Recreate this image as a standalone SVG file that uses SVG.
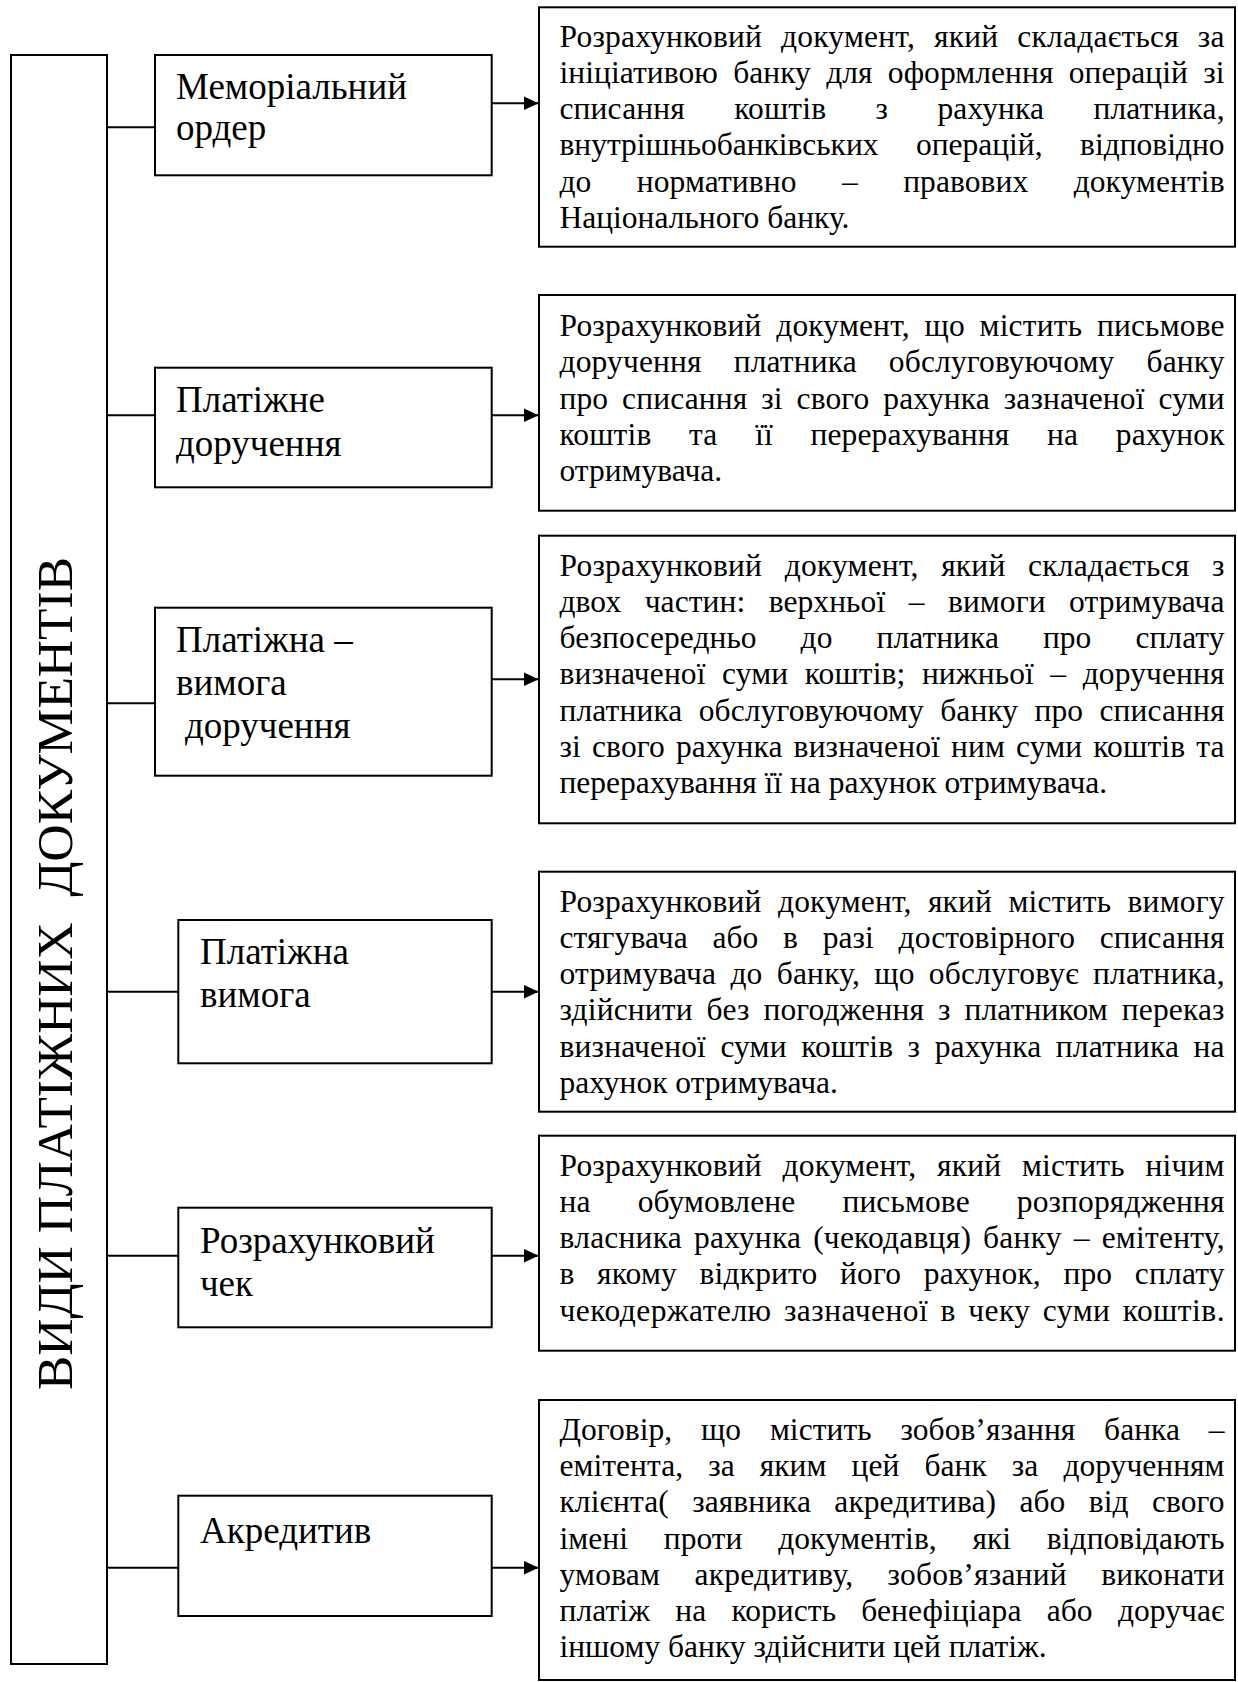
<svg xmlns="http://www.w3.org/2000/svg" width="1238" height="1682" viewBox="0 0 1238 1682">
<style>
.box{fill:#fff;stroke:#000;stroke-width:2}
.ln{stroke:#000;stroke-width:2;fill:none}
.lbl{font-family:"Liberation Serif","Times New Roman",serif;font-size:37px;fill:#000}
.vt{font-family:"Liberation Serif","Times New Roman",serif;font-size:51.5px;fill:#000;white-space:pre}
.d{font-family:"Liberation Serif","Times New Roman",serif;font-size:31.5px;fill:#000}
</style>
<defs>
<marker id="ah" markerUnits="userSpaceOnUse" markerWidth="16" markerHeight="15" refX="15" refY="7" orient="auto">
<path d="M0,0 L15,7 L0,14 z" fill="#000"/>
</marker>
</defs>
<rect width="1238" height="1682" fill="#fff"/>

<g id="root">
<rect class="box" x="11" y="55" width="96" height="1609"/>
<text class="vt" transform="translate(71.5,557) rotate(-90)" text-anchor="end" xml:space="preserve">ВИДИ ПЛАТІЖНИХ  ДОКУМЕНТІВ</text>
</g>

<g id="connectors">
<line class="ln" x1="107" y1="127.3" x2="155" y2="127.3"/>
<line class="ln" x1="107" y1="415.3" x2="155" y2="415.3"/>
<line class="ln" x1="107" y1="703.3" x2="155" y2="703.3"/>
<line class="ln" x1="107" y1="991.7" x2="178.3" y2="991.7"/>
<line class="ln" x1="107" y1="1255.7" x2="178.3" y2="1255.7"/>
<line class="ln" x1="107" y1="1567.7" x2="178.3" y2="1567.7"/>
<line class="ln" x1="491.7" y1="103.3" x2="538.5" y2="103.3" marker-end="url(#ah)"/>
<line class="ln" x1="491.7" y1="415.3" x2="538.5" y2="415.3" marker-end="url(#ah)"/>
<line class="ln" x1="491.7" y1="679.3" x2="538.5" y2="679.3" marker-end="url(#ah)"/>
<line class="ln" x1="491.7" y1="991.7" x2="538.5" y2="991.7" marker-end="url(#ah)"/>
<line class="ln" x1="491.7" y1="1255.7" x2="538.5" y2="1255.7" marker-end="url(#ah)"/>
<line class="ln" x1="491.7" y1="1567.7" x2="538.5" y2="1567.7" marker-end="url(#ah)"/>
</g>

<g id="n1">
<rect class="box" x="155" y="55" width="336.7" height="120.3"/>
<text class="lbl" x="176" y="99.3">Меморіальний</text>
<text class="lbl" x="176" y="140">ордер</text>
</g>
<g id="n2">
<rect class="box" x="155" y="367.7" width="336.7" height="119.6"/>
<text class="lbl" x="176" y="411.7">Платіжне</text>
<text class="lbl" x="176" y="456">доручення</text>
</g>
<g id="n3">
<rect class="box" x="155" y="607.7" width="336.7" height="168"/>
<text class="lbl" x="176" y="651.7">Платіжна –</text>
<text class="lbl" x="176" y="695">вимога</text>
<text class="lbl" x="185" y="738.3">доручення</text>
</g>
<g id="n4">
<rect class="box" x="178.3" y="920" width="313.4" height="143.3"/>
<text class="lbl" x="200" y="964">Платіжна</text>
<text class="lbl" x="200" y="1007.3">вимога</text>
</g>
<g id="n5">
<rect class="box" x="178.3" y="1207.7" width="313.4" height="119.6"/>
<text class="lbl" x="200" y="1252.7">Розрахунковий</text>
<text class="lbl" x="200" y="1296">чек</text>
</g>
<g id="n6">
<rect class="box" x="178.3" y="1495.7" width="313.4" height="120.3"/>
<text class="lbl" x="200" y="1542.7">Акредитив</text>
</g>

<g id="d1">
<rect class="box" x="539" y="7.3" width="696" height="239.4"/>
<text class="d" x="559.5" y="46.7" textLength="665" lengthAdjust="spacing" style="word-spacing:10.9px">Розрахунковий документ, який складається за</text>
<text class="d" x="559.5" y="82.95" textLength="665" lengthAdjust="spacing" style="word-spacing:7.3px">ініціативою банку для оформлення операцій зі</text>
<text class="d" x="559.5" y="119.2" textLength="665" lengthAdjust="spacing" style="word-spacing:41.3px">списання коштів з рахунка платника,</text>
<text class="d" x="559.5" y="155.45" textLength="665" lengthAdjust="spacing" style="word-spacing:29.7px">внутрішньобанківських операцій, відповідно</text>
<text class="d" x="559.5" y="191.7" textLength="665" lengthAdjust="spacing" style="word-spacing:37.5px">до нормативно – правових документів</text>
<text class="d" x="559.5" y="227.95">Національного банку.</text>
</g>

<g id="d2">
<rect class="box" x="539" y="295" width="696" height="215.7"/>
<text class="d" x="559.5" y="336" textLength="665" lengthAdjust="spacing" style="word-spacing:6.7px">Розрахунковий документ, що містить письмове</text>
<text class="d" x="559.5" y="372.25" textLength="665" lengthAdjust="spacing" style="word-spacing:24px">доручення платника обслуговуючому банку</text>
<text class="d" x="559.5" y="408.5" textLength="665" lengthAdjust="spacing" style="word-spacing:5.9px">про списання зі свого рахунка зазначеної суми</text>
<text class="d" x="559.5" y="444.75" textLength="665" lengthAdjust="spacing" style="word-spacing:29.6px">коштів та її перерахування на рахунок</text>
<text class="d" x="559.5" y="481">отримувача.</text>
</g>

<g id="d3">
<rect class="box" x="539" y="535.7" width="696" height="287.6"/>
<text class="d" x="559.5" y="575.7" textLength="665" lengthAdjust="spacing" style="word-spacing:14.4px">Розрахунковий документ, який складається з</text>
<text class="d" x="559.5" y="611.95" textLength="665" lengthAdjust="spacing" style="word-spacing:15.5px">двох частин: верхньої – вимоги отримувача</text>
<text class="d" x="559.5" y="648.2" textLength="665" lengthAdjust="spacing" style="word-spacing:36.1px">безпосередньо до платника про сплату</text>
<text class="d" x="559.5" y="684.45" textLength="665" lengthAdjust="spacing" style="word-spacing:8.5px">визначеної суми коштів; нижньої – доручення</text>
<text class="d" x="559.5" y="720.7" textLength="665" lengthAdjust="spacing" style="word-spacing:8.3px">платника обслуговуючому банку про списання</text>
<text class="d" x="559.5" y="756.95" textLength="665" lengthAdjust="spacing" style="word-spacing:3px">зі свого рахунка визначеної ним суми коштів та</text>
<text class="d" x="559.5" y="793.2">перерахування її на рахунок отримувача.</text>
</g>

<g id="d4">
<rect class="box" x="539" y="871.7" width="696" height="240"/>
<text class="d" x="559.5" y="911.5" textLength="665" lengthAdjust="spacing" style="word-spacing:8.3px">Розрахунковий документ, який містить вимогу</text>
<text class="d" x="559.5" y="947.75" textLength="665" lengthAdjust="spacing" style="word-spacing:16.7px">стягувача або в разі достовірного списання</text>
<text class="d" x="559.5" y="984" textLength="665" lengthAdjust="spacing" style="word-spacing:6.1px">отримувача до банку, що обслуговує платника,</text>
<text class="d" x="559.5" y="1020.25" textLength="665" lengthAdjust="spacing" style="word-spacing:5.8px">здійснити без погодження з платником переказ</text>
<text class="d" x="559.5" y="1056.5" textLength="665" lengthAdjust="spacing" style="word-spacing:6.4px">визначеної суми коштів з рахунка платника на</text>
<text class="d" x="559.5" y="1092.75">рахунок отримувача.</text>
</g>

<g id="d5">
<rect class="box" x="539" y="1135.7" width="696" height="215"/>
<text class="d" x="559.5" y="1175.5" textLength="665" lengthAdjust="spacing" style="word-spacing:12.7px">Розрахунковий документ, який містить нічим</text>
<text class="d" x="559.5" y="1211.75" textLength="665" lengthAdjust="spacing" style="word-spacing:39.1px">на обумовлене письмове розпорядження</text>
<text class="d" x="559.5" y="1248" textLength="665" lengthAdjust="spacing" style="word-spacing:3.9px">власника рахунка (чекодавця) банку – емітенту,</text>
<text class="d" x="559.5" y="1284.25" textLength="665" lengthAdjust="spacing" style="word-spacing:14.5px">в якому відкрито його рахунок, про сплату</text>
<text class="d" x="559.5" y="1320.5" textLength="665" lengthAdjust="spacing" style="word-spacing:4px">чекодержателю зазначеної в чеку суми коштів.</text>
</g>

<g id="d6">
<rect class="box" x="539" y="1400" width="696" height="280"/>
<text class="d" x="559.5" y="1439.8" textLength="665" lengthAdjust="spacing" style="word-spacing:20.8px">Договір, що містить зобов’язання банка –</text>
<text class="d" x="559.5" y="1476.05" textLength="665" lengthAdjust="spacing" style="word-spacing:17.2px">емітента, за яким цей банк за дорученням</text>
<text class="d" x="559.5" y="1512.3" textLength="665" lengthAdjust="spacing" style="word-spacing:15.4px">клієнта( заявника акредитива) або від свого</text>
<text class="d" x="559.5" y="1548.55" textLength="665" lengthAdjust="spacing" style="word-spacing:27.8px">імені проти документів, які відповідають</text>
<text class="d" x="559.5" y="1584.8" textLength="665" lengthAdjust="spacing" style="word-spacing:26.2px">умовам акредитиву, зобов’язаний виконати</text>
<text class="d" x="559.5" y="1621.05" textLength="665" lengthAdjust="spacing" style="word-spacing:17.3px">платіж на користь бенефіціара або доручає</text>
<text class="d" x="559.5" y="1657.3">іншому банку здійснити цей платіж.</text>
</g>
</svg>
